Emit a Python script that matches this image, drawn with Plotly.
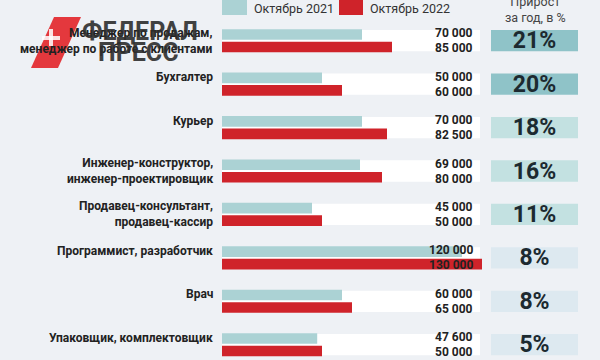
import plotly.graph_objects as go

# ---------------- data ----------------
categories = [
    "Менеджер по продажам, менеджер по работе с клиентами",
    "Бухгалтер",
    "Курьер",
    "Инженер-конструктор, инженер-проектировщик",
    "Продавец-консультант, продавец-кассир",
    "Программист, разработчик",
    "Врач",
    "Упаковщик, комплектовщик",
]
label_lines = [
    ["Менеджер по продажам,", "менеджер по работе с клиентами"],
    ["Бухгалтер"],
    ["Курьер"],
    ["Инженер-конструктор,", "инженер-проектировщик"],
    ["Продавец-консультант,", "продавец-кассир"],
    ["Программист, разработчик"],
    ["Врач"],
    ["Упаковщик, комплектовщик"],
]
salary_2021 = [70000, 50000, 70000, 69000, 45000, 120000, 60000, 47600]
salary_2022 = [85000, 60000, 82500, 80000, 50000, 130000, 65000, 50000]
growth_pct = [21, 20, 18, 16, 11, 8, 8, 5]
series_names = ["Октябрь 2021", "Октябрь 2022"]
header_text = "Прирост<br>за год, в %"

# ---------------- style ----------------
W, H = 600, 360
ML, MR, MT, MB = 222, 0, 19, 2
PW, PH = W - ML - MR, H - MT - MB
BG = "#eef1f5"
TEAL = "#abd2d4"
RED = "#cf232a"
TEXT = "#222222"
FONT = "Roboto"
TRACK_END = 129000
PILL_START, PILL_W = 134500, 43500


def pill_color(p):
    if p >= 20:
        return "#8fc3c8"
    if p >= 10:
        return "#c3e1e1"
    return "#dde9f0"


def fmt(v):
    return f"{v:,}".replace(",", " ")


def xp(px):
    return (px - ML) / PW


def yp(py):
    return (H - MB - py) / PH


fig = go.Figure()

# background tracks and growth pills (main y axis, drawn below)
fig.add_trace(go.Bar(
    y=categories, x=[TRACK_END] * len(categories), base=0,
    orientation="h", yaxis="y", offsetgroup="bg",
    marker=dict(color="#ffffff", line=dict(width=0)),
    hoverinfo="skip", showlegend=False,
))
fig.add_trace(go.Bar(
    y=categories, x=[PILL_W] * len(categories), base=PILL_START,
    orientation="h", yaxis="y", offsetgroup="bg",
    marker=dict(color=[pill_color(p) for p in growth_pct], line=dict(width=0)),
    text=[f"<b>{p}%</b>" for p in growth_pct],
    textposition="inside", insidetextanchor="middle", constraintext="none",
    textangle=0,
    textfont=dict(family=FONT, size=23, color="#1c2a30"),
    hoverinfo="skip", showlegend=False,
))

# salary bars (overlay axis, drawn on top)
fig.add_trace(go.Bar(
    y=categories, x=salary_2021, name=series_names[0], orientation="h",
    yaxis="y2", marker=dict(color=TEAL, line=dict(width=0)), showlegend=False,
))
fig.add_trace(go.Bar(
    y=categories, x=salary_2022, name=series_names[1], orientation="h",
    yaxis="y2", marker=dict(color=RED, line=dict(width=0)), showlegend=False,
))

annotations = []
# occupation labels
for cat, lines in zip(categories, label_lines):
    annotations.append(dict(
        x=0, xref="paper", y=cat, yref="y", xanchor="right", yanchor="middle",
        xshift=-7, yshift=7 if len(lines) == 1 else 0,
        text="<br>".join(f"<b>{l}</b>" for l in lines), align="right",
        showarrow=False, font=dict(family=FONT, size=12, color=TEXT),
    ))
# value labels
VAL_X = 126500
for cat, a, b in zip(categories, salary_2021, salary_2022):
    for v, sh in ((a, 7.5), (b, -7.5)):
        annotations.append(dict(
            x=VAL_X, xref="x", y=cat, yref="y", xanchor="right", yanchor="middle",
            yshift=sh, text=f"<b>{fmt(v)}</b>", showarrow=False,
            font=dict(family=FONT, size=12, color=TEXT),
        ))

# legend
shapes = [
    dict(type="rect", xref="paper", yref="paper", x0=xp(222), x1=xp(247),
         y0=yp(15), y1=yp(-2), fillcolor=TEAL, line=dict(width=0)),
    dict(type="rect", xref="paper", yref="paper", x0=xp(339), x1=xp(363),
         y0=yp(15), y1=yp(-2), fillcolor=RED, line=dict(width=0)),
]
annotations.append(dict(x=xp(252), y=yp(8), xref="paper", yref="paper",
                        xanchor="left", yanchor="middle", text=series_names[0],
                        showarrow=False, font=dict(family=FONT, size=12.5, color="#333333")))
annotations.append(dict(x=xp(368), y=yp(8), xref="paper", yref="paper",
                        xanchor="left", yanchor="middle", text=series_names[1],
                        showarrow=False, font=dict(family=FONT, size=12.5, color="#333333")))
annotations.append(dict(x=xp(535), y=yp(9), xref="paper", yref="paper",
                        xanchor="center", yanchor="middle", text=header_text,
                        showarrow=False, font=dict(family=FONT, size=12.5, color="#444444")))

# watermark logo
logo_pts = [(54, 17), (81, 17), (58, 68), (31, 68)]
path = "M " + " L ".join(f"{xp(x)},{yp(y)}" for x, y in logo_pts) + " Z"
shapes.append(dict(type="path", xref="paper", yref="paper", path=path,
                   fillcolor="#e3282d", line=dict(width=0), opacity=0.92))
shapes.append(dict(type="rect", xref="paper", yref="paper", x0=xp(42), x1=xp(60),
                   y0=yp(40), y1=yp(36), fillcolor="#ffffff", line=dict(width=0), opacity=0.85))
shapes.append(dict(type="rect", xref="paper", yref="paper", x0=xp(49), x1=xp(53),
                   y0=yp(46), y1=yp(29), fillcolor="#ffffff", line=dict(width=0), opacity=0.85))
annotations.append(dict(x=xp(140), y=yp(31), xref="paper", yref="paper",
                        xanchor="center", yanchor="middle", text="<b>ФЕДЕРАЛ</b>",
                        showarrow=False, opacity=0.9,
                        font=dict(family="Roboto", size=25, color="#2e2e2e")))
annotations.append(dict(x=xp(138), y=yp(52), xref="paper", yref="paper",
                        xanchor="center", yanchor="middle", text="<b>ПРЕСС</b>",
                        showarrow=False, opacity=0.9,
                        font=dict(family="Roboto", size=25, color="#2e2e2e")))

yrange = [7.306, -0.5]
fig.update_layout(
    width=W, height=H,
    margin=dict(l=ML, r=MR, t=MT, b=MB, pad=0),
    paper_bgcolor=BG, plot_bgcolor=BG,
    barmode="group", bargap=0.424, bargroupgap=0.15,
    xaxis=dict(range=[0, PW / 2 * 1000], visible=False, fixedrange=True),
    yaxis=dict(type="category", categoryorder="array", categoryarray=categories,
               range=yrange, visible=False, fixedrange=True),
    yaxis2=dict(type="category", categoryorder="array", categoryarray=categories,
                range=yrange, visible=False, overlaying="y", fixedrange=True),
    annotations=annotations, shapes=shapes,
    showlegend=False,
)

fig.write_html(
    "out.html",
    config={"displayModeBar": False},
    post_script="document.body.style.margin='0';document.body.style.padding='0';"
                "document.body.style.overflow='hidden';",
)
